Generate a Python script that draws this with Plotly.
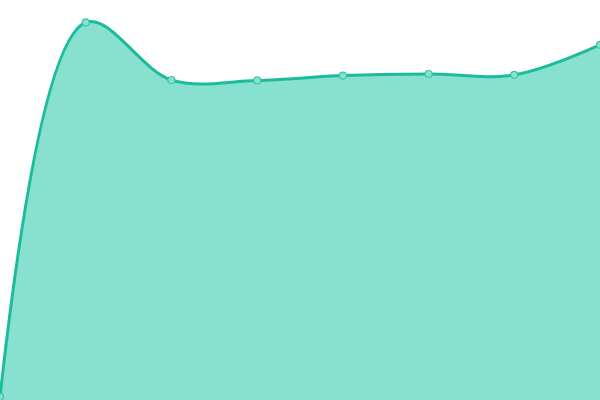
import plotly.graph_objects as go

# Data
x_vals = [0, 1, 2, 3, 4, 5, 6, 7]
y_vals = [0.8, 94.4, 80.0, 79.9, 81.1, 81.5, 81.3, 88.8]

line_color = "#1abc9c"
fill_color = "#88e0cf"

fig = go.Figure()
fig.add_trace(go.Scatter(
    x=x_vals, y=y_vals,
    mode="lines+markers",
    line=dict(color=line_color, width=3, shape="spline", smoothing=1),
    fill="tozeroy",
    fillcolor=fill_color,
    marker=dict(size=7, color=fill_color, line=dict(color="#3cc5a9", width=1.2)),
    hoverinfo="skip",
    showlegend=False,
))

fig.update_layout(
    width=600, height=400,
    margin=dict(l=0, r=0, t=0, b=0),
    plot_bgcolor="white",
    paper_bgcolor="white",
)
fig.update_xaxes(range=[0, 7], visible=False, showgrid=False, zeroline=False)
fig.update_yaxes(range=[0, 100], visible=False, showgrid=False, zeroline=False)

# page body has a default 8px margin, drop it so the chart fills the window
fig.write_html("out.html", config={"displayModeBar": False},
               post_script="document.body.style.margin='0';")
